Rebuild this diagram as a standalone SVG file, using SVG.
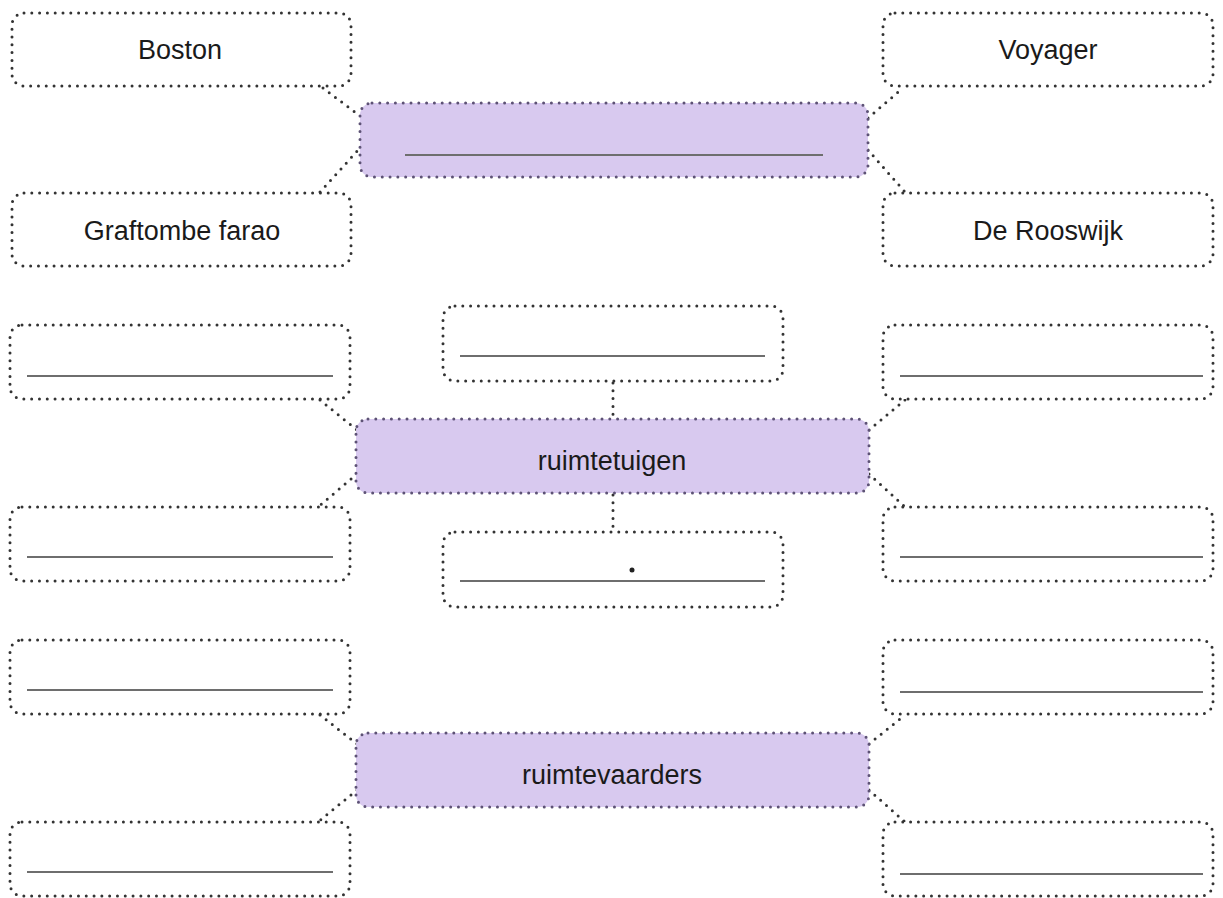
<svg xmlns="http://www.w3.org/2000/svg" width="1223" height="898" viewBox="0 0 1223 898">
<style>
.box{fill:#fff;stroke:#333;stroke-width:3;stroke-dasharray:0 7.8;stroke-linecap:round}
.hub{fill:#d8c9ef;stroke:#5d5275;stroke-width:3;stroke-dasharray:0 7.8;stroke-linecap:round}
.con{fill:none;stroke:#333;stroke-width:3;stroke-dasharray:0 7.8;stroke-linecap:round}
.ln{stroke:#6e6e6e;stroke-width:2}
.t{font-family:"Liberation Sans",Arial,sans-serif;font-size:27px;fill:#1a1a1a;text-anchor:middle}
</style>
<rect width="1223" height="898" fill="#fff"/>
<g id="connectors">
<path class="con" d="M323,88 L360,116"/>
<path class="con" d="M320,192 L360,148"/>
<path class="con" d="M868,118 L903,88"/>
<path class="con" d="M868,150 L905,192"/>
<path class="con" d="M320,400 L357,430"/>
<path class="con" d="M357,474 L318,507"/>
<path class="con" d="M869,430 L905,400"/>
<path class="con" d="M869,474 L905,507"/>
<path class="con" d="M613,383 L613,418"/>
<path class="con" d="M613,495 L613,530"/>
<path class="con" d="M320,715 L357,744"/>
<path class="con" d="M357,790 L318,822"/>
<path class="con" d="M869,744 L905,715"/>
<path class="con" d="M869,790 L905,822"/>
</g>
<g id="hub1"><rect class="hub" x="360" y="103" width="508" height="74" rx="12"/><line class="ln" x1="405" y1="155" x2="823" y2="155"/></g>
<g id="boston"><rect class="box" x="12" y="13" width="339" height="73" rx="12"/><text class="t" x="180" y="59">Boston</text></g>
<g id="graftombe"><rect class="box" x="12" y="193" width="339" height="73" rx="12"/><text class="t" x="182" y="240">Graftombe farao</text></g>
<g id="voyager"><rect class="box" x="883" y="13" width="330" height="73" rx="12"/><text class="t" x="1048" y="59">Voyager</text></g>
<g id="rooswijk"><rect class="box" x="883" y="193" width="330" height="73" rx="12"/><text class="t" x="1048" y="240">De Rooswijk</text></g>

<g id="hub2"><rect class="hub" x="356" y="419" width="513" height="74" rx="12"/><text class="t" x="612" y="470">ruimtetuigen</text></g>
<g id="b2l1"><rect class="box" x="10" y="325" width="340" height="74" rx="12"/><line class="ln" x1="27" y1="376" x2="333" y2="376"/></g>
<g id="b2l2"><rect class="box" x="10" y="507" width="340" height="74" rx="12"/><line class="ln" x1="27" y1="557" x2="333" y2="557"/></g>
<g id="b2r1"><rect class="box" x="883" y="325" width="330" height="74" rx="12"/><line class="ln" x1="900" y1="376" x2="1203" y2="376"/></g>
<g id="b2r2"><rect class="box" x="883" y="507" width="330" height="74" rx="12"/><line class="ln" x1="900" y1="557" x2="1203" y2="557"/></g>
<g id="b2c1"><rect class="box" x="443" y="306" width="340" height="75" rx="12"/><line class="ln" x1="460" y1="356" x2="765" y2="356"/></g>
<g id="b2c2"><rect class="box" x="443" y="532" width="340" height="75" rx="12"/><line class="ln" x1="460" y1="581" x2="765" y2="581"/><circle cx="632" cy="570" r="2.5" fill="#222"/></g>

<g id="hub3"><rect class="hub" x="356" y="733" width="513" height="74" rx="12"/><text class="t" x="612" y="784">ruimtevaarders</text></g>
<g id="b3l1"><rect class="box" x="10" y="640" width="340" height="74" rx="12"/><line class="ln" x1="27" y1="690" x2="333" y2="690"/></g>
<g id="b3l2"><rect class="box" x="10" y="822" width="340" height="74" rx="12"/><line class="ln" x1="27" y1="872" x2="333" y2="872"/></g>
<g id="b3r1"><rect class="box" x="883" y="640" width="330" height="74" rx="12"/><line class="ln" x1="900" y1="692" x2="1203" y2="692"/></g>
<g id="b3r2"><rect class="box" x="883" y="822" width="330" height="74" rx="12"/><line class="ln" x1="900" y1="874" x2="1203" y2="874"/></g>
</svg>
